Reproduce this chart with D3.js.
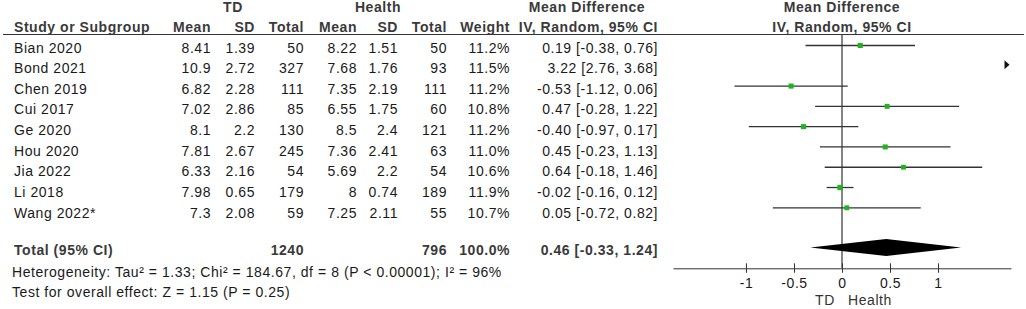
<!DOCTYPE html>
<html>
<head>
<meta charset="utf-8">
<script src="https://cdn.jsdelivr.net/npm/d3@7"></script>
<style>
  body { margin: 0; background: #fff; }
  svg text { font-family: "Liberation Sans", Arial, sans-serif; font-size: 14px; letter-spacing: 0.55px; }
</style>
</head>
<body>
<svg id="chart"></svg>
<script>
// study data
const studies = ["Bian 2020", "Bond 2021", "Chen 2019", "Cui 2017", "Ge 2020", "Hou 2020", "Jia 2022", "Li 2018", "Wang 2022*"];
const tdMean  = ["8.41", "10.9", "6.82", "7.02", "8.1", "7.81", "6.33", "7.98", "7.3"];
const tdSD    = ["1.39", "2.72", "2.28", "2.86", "2.2", "2.67", "2.16", "0.65", "2.08"];
const tdTotal = [50, 327, 111, 85, 130, 245, 54, 179, 59];
const hMean   = ["8.22", "7.68", "7.35", "6.55", "8.5", "7.36", "5.69", "8", "7.25"];
const hSD     = ["1.51", "1.76", "2.19", "1.75", "2.4", "2.41", "2.2", "0.74", "2.11"];
const hTotal  = [50, 93, 111, 60, 121, 63, 54, 189, 55];
const weight  = [11.2, 11.5, 11.2, 10.8, 11.2, 11.0, 10.6, 11.9, 10.7];
const md      = [0.19, 3.22, -0.53, 0.47, -0.40, 0.45, 0.64, -0.02, 0.05];
const ciLo    = [-0.38, 2.76, -1.12, -0.28, -0.97, -0.23, -0.18, -0.16, -0.72];
const ciHi    = [0.76, 3.68, 0.06, 1.22, 0.17, 1.13, 1.46, 0.12, 0.82];

const total = { tdTotal: 1240, hTotal: 796, weight: 100.0, md: 0.46, lo: -0.33, hi: 1.24 };
const heterogeneity = "Heterogeneity: Tau² = 1.33; Chi² = 184.67, df = 8 (P < 0.00001); I² = 96%";
const overall = "Test for overall effect: Z = 1.15 (P = 0.25)";
const axisTicks = [-1, -0.5, 0, 0.5, 1];
const axisMax = 1.76;

const w = 1026, h = 309;
const svg = d3.select("#chart").attr("width", w).attr("height", h);

const x = d3.scaleLinear().domain([-axisMax, axisMax]).range([673, 1011]);
const yLine = d3.scaleLinear().domain([0, studies.length - 1]).range([45.5, 207.8]);
const yText = d3.scaleLinear().domain([0, studies.length - 1]).range([52.5, 217.5]);
const sq = d3.scaleSqrt().domain([10, 12]).range([4.6, 5.4]);

const headCol = "#3a3a3a";
const ink = "#1a1a1a";
const f2 = v => v.toFixed(2);
const ciText = (m, l, u) => `${f2(m)} [${f2(l)}, ${f2(u)}]`;

// table columns: right edge x
const cols = [
  { x: 211, head: "Mean", vals: tdMean },
  { x: 255, head: "SD", vals: tdSD },
  { x: 304, head: "Total", vals: tdTotal },
  { x: 357, head: "Mean", vals: hMean },
  { x: 398, head: "SD", vals: hSD },
  { x: 447, head: "Total", vals: hTotal },
  { x: 510, head: "Weight", vals: weight.map(v => v.toFixed(1) + "%") },
  { x: 658, head: "IV, Random, 95% CI", vals: md.map((m, i) => ciText(m, ciLo[i], ciHi[i])) }
];

// headers
const hdr = svg.append("g").style("font-weight", "bold").attr("fill", headCol);
hdr.append("text").attr("x", 233).attr("y", 12).attr("text-anchor", "middle").text("TD");
hdr.append("text").attr("x", 378).attr("y", 12).attr("text-anchor", "middle").text("Health");
hdr.append("text").attr("x", 587).attr("y", 12).attr("text-anchor", "middle").text("Mean Difference");
hdr.append("text").attr("x", 842).attr("y", 12).attr("text-anchor", "middle").text("Mean Difference");
hdr.append("text").attr("x", 842).attr("y", 31.5).attr("text-anchor", "middle").text("IV, Random, 95% CI");
hdr.append("text").attr("x", 14).attr("y", 31.5).text("Study or Subgroup");
cols.forEach(c => {
  hdr.append("text").attr("x", c.x).attr("y", 31.5).attr("text-anchor", "end").text(c.head);
});

svg.append("line").attr("x1", 3).attr("x2", 1024).attr("y1", 34.5).attr("y2", 34.5)
  .attr("stroke", "#333").attr("stroke-width", 1);

// study rows
const body = svg.append("g").attr("fill", ink);
body.selectAll(".name").data(studies).enter().append("text")
  .attr("x", 14).attr("y", (d, i) => yText(i)).text(d => d);
cols.forEach(c => {
  body.selectAll(null).data(c.vals).enter().append("text")
    .attr("x", c.x).attr("y", (d, i) => yText(i))
    .attr("text-anchor", "end").text(d => d);
});

// total row
const tot = svg.append("g").style("font-weight", "bold").attr("fill", headCol);
const yTot = 255;
tot.append("text").attr("x", 14).attr("y", yTot).text("Total (95% CI)");
tot.append("text").attr("x", 304).attr("y", yTot).attr("text-anchor", "end").text(total.tdTotal);
tot.append("text").attr("x", 447).attr("y", yTot).attr("text-anchor", "end").text(total.hTotal);
tot.append("text").attr("x", 510).attr("y", yTot).attr("text-anchor", "end").text(total.weight.toFixed(1) + "%");
tot.append("text").attr("x", 658).attr("y", yTot).attr("text-anchor", "end").text(ciText(total.md, total.lo, total.hi));

svg.append("text").attr("x", 12).attr("y", 276.5).attr("fill", ink).text(heterogeneity);
svg.append("text").attr("x", 12).attr("y", 297).attr("fill", ink).text(overall);

// forest plot
const plot = svg.append("g");
const axisY = 268.3;

plot.append("line").attr("x1", x(0)).attr("x2", x(0)).attr("y1", 34.5).attr("y2", axisY)
  .attr("stroke", "#333").attr("stroke-width", 1.2);

const rows = studies.map((s, i) => ({ i, md: md[i], lo: ciLo[i], hi: ciHi[i], w: weight[i] }));
const [dMin, dMax] = x.domain();
const inside = rows.filter(d => d.lo < dMax && d.hi > dMin);
const outRight = rows.filter(d => d.lo >= dMax);

plot.selectAll(".ci").data(inside).enter().append("line")
  .attr("x1", d => x(Math.max(d.lo, dMin))).attr("x2", d => x(Math.min(d.hi, dMax)))
  .attr("y1", d => yLine(d.i)).attr("y2", d => yLine(d.i))
  .attr("stroke", "#333").attr("stroke-width", 1.3);

plot.selectAll(".pt").data(inside).enter().append("rect")
  .attr("x", d => x(d.md) - sq(d.w) / 2).attr("y", d => yLine(d.i) - sq(d.w) / 2)
  .attr("width", d => sq(d.w)).attr("height", d => sq(d.w))
  .attr("fill", "#1fb31f");

plot.selectAll(".arrow").data(outRight).enter().append("path")
  .attr("d", d => {
    const xr = x.range()[1] - 1.5, yy = yLine(d.i) - 1;
    return `M${xr - 5},${yy - 4.5}L${xr},${yy}L${xr - 5},${yy + 4.5}Z`;
  })
  .attr("fill", "#111");

// pooled diamond
const yD = 247.5;
plot.append("path")
  .attr("d", `M${x(total.lo)},${yD}L${x(total.md)},${yD - 8.5}L${x(total.hi)},${yD}L${x(total.md)},${yD + 8.5}Z`)
  .attr("fill", "#000");

// axis
const axisG = plot.append("g").attr("transform", `translate(0,${axisY})`)
  .call(d3.axisBottom(x).tickValues(axisTicks).tickSize(4.5).tickSizeOuter(0).tickPadding(5)
    .tickFormat(d => d === 0 ? "0" : String(d)));
axisG.select(".domain").attr("stroke", "#333");
axisG.selectAll(".tick line").attr("y1", -5).attr("stroke", "#333");
axisG.selectAll(".tick text")
  .style("font-family", "'Liberation Sans', Arial, sans-serif").style("font-size", "14px")
  .attr("fill", ink);

plot.append("text").attr("x", 825).attr("y", 305).attr("text-anchor", "middle").attr("fill", "#333").text("TD");
plot.append("text").attr("x", 870).attr("y", 305).attr("text-anchor", "middle").attr("fill", "#333").text("Health");
</script>
</body>
</html>
